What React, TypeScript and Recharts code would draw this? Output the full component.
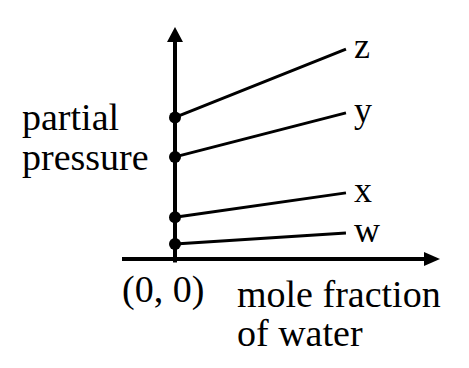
import React from 'react';
import { LineChart, Line, XAxis, YAxis, ReferenceLine } from 'recharts';

// mole fraction of water at start / end of each line
const moleFraction = [0, 1];
const seriesNames = ['z', 'y', 'x', 'w'];
const zPressure = [6.1, 9.05];
const yPressure = [4.4, 6.3];
const xPressure = [1.8, 2.85];
const wPressure = [0.65, 1.12];

const FONT = 'Times New Roman, Liberation Serif, Times, serif';

const toPoints = (values: number[]) =>
  moleFraction.map((mf, i) => ({ mf, p: values[i] }));

const series = [
  { name: seriesNames[0], data: toPoints(zPressure) },
  { name: seriesNames[1], data: toPoints(yPressure) },
  { name: seriesNames[2], data: toPoints(xPressure) },
  { name: seriesNames[3], data: toPoints(wPressure) },
];

function UpArrow(props: any) {
  const { x1, y1, x2, y2 } = props;
  return (
    <g>
      <line x1={x1} y1={y1} x2={x2} y2={y2 + 10} stroke="#000" strokeWidth={4} />
      <polygon points={`${x2},${y2} ${x2 - 8},${y2 + 15} ${x2 + 8},${y2 + 15}`} fill="#000" />
    </g>
  );
}

function RightArrow(props: any) {
  const { x1, y1, x2, y2 } = props;
  return (
    <g>
      <line x1={x1} y1={y1} x2={x2 - 10} y2={y2} stroke="#000" strokeWidth={4} />
      <polygon points={`${x2},${y2} ${x2 - 16},${y2 - 7} ${x2 - 16},${y2 + 7}`} fill="#000" />
    </g>
  );
}

const startDot = (props: any) => {
  const { cx, cy, index, key } = props;
  if (index !== 0) return <g key={key} />;
  return <circle key={key} cx={cx} cy={cy} r={6} fill="#000" />;
};

const endLabel = (name: string) => (props: any) => {
  const { x, y, index } = props;
  if (index !== 1) return null;
  return (
    <text x={x + 8} y={y} dy={9} fill="#000" fontFamily={FONT} fontSize={36}>
      {name}
    </text>
  );
};

const textStyle: React.CSSProperties = {
  position: 'absolute',
  fontFamily: FONT,
  fontSize: 38,
  lineHeight: '38px',
  whiteSpace: 'nowrap',
  color: '#000',
};

export default function App() {
  return (
    <div style={{ position: 'absolute', left: 0, top: 0, width: 469, height: 368, background: '#fff', fontFamily: FONT }}>
      <LineChart width={469} height={368} margin={{ top: 27, right: 29, bottom: 109, left: 122 }}>
        <XAxis type="number" dataKey="mf" domain={[-0.31, 1.55]} hide />
        <YAxis type="number" dataKey="p" domain={[0, 10]} hide />
        <ReferenceLine
          segment={[{ x: 0, y: -0.15 }, { x: 0, y: 10 }]}
          ifOverflow="visible"
          shape={UpArrow}
        />
        <ReferenceLine
          segment={[{ x: -0.31, y: 0 }, { x: 1.55, y: 0 }]}
          ifOverflow="visible"
          shape={RightArrow}
        />
        {series.map((s) => (
          <Line
            key={s.name}
            data={s.data}
            dataKey="p"
            type="linear"
            stroke="#000"
            strokeWidth={3}
            dot={startDot}
            activeDot={false}
            label={endLabel(s.name)}
            isAnimationActive={false}
          />
        ))}
      </LineChart>
      {/* baseline sits ~29px below the top of a 38px line box */}
      <div style={{ ...textStyle, left: 22, top: 98 }}>partial</div>
      <div style={{ ...textStyle, left: 22, top: 138 }}>pressure</div>
      <div style={{ ...textStyle, left: 122, top: 270 }}>(0, 0)</div>
      <div style={{ ...textStyle, left: 237, top: 275 }}>mole fraction</div>
      <div style={{ ...textStyle, left: 237, top: 314 }}>of water</div>
    </div>
  );
}
